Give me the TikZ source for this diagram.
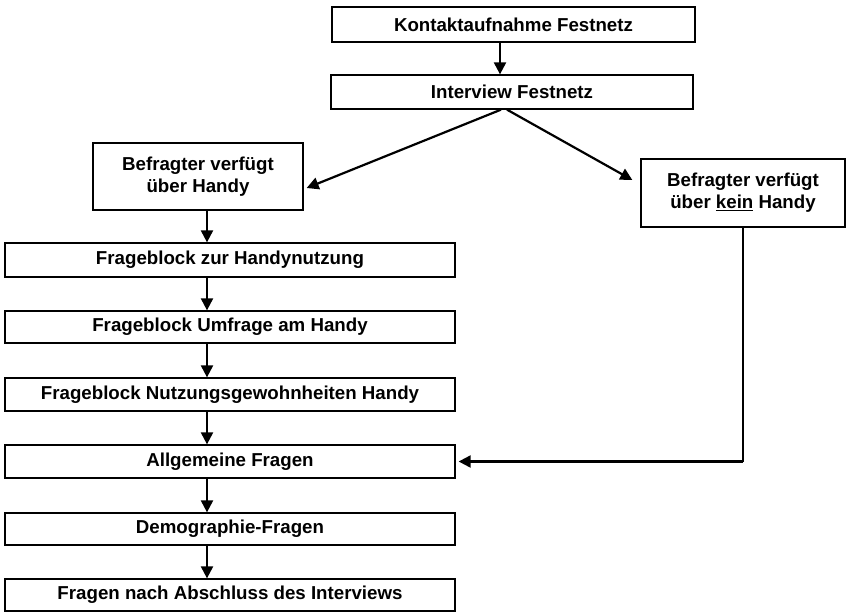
\documentclass[tikz,border=0pt]{standalone}
\usepackage{fontspec}
\setmainfont{Liberation Sans}
\usetikzlibrary{arrows.meta}

\tikzset{
    kasten/.style={draw, line width=1.3pt, inner sep=0pt, align=center,
        font=\bfseries\fontsize{18.7}{22}\selectfont},
    pfeil/.style={line width=2.2pt, -{Triangle[length=12pt,width=12pt]}}
}

\begin{document}
\begin{tikzpicture}[x=1pt,y=-1pt]
        \useasboundingbox (0,0) rectangle (846,611);

        \node[kasten, minimum width=363pt, minimum height=35pt] (kontakt) at (513.5,24.5) {Kontaktaufnahme Festnetz};
        \node[kasten, minimum width=362pt, minimum height=34pt] (interview) at (512,92) {Interview Festnetz};
        \node[kasten, minimum width=210pt, minimum height=67pt] (handy) at (198,176.5) {Befragter verfügt\\über Handy};
        \node[kasten, minimum width=204pt, minimum height=68pt] (kein) at (743,193) {Befragter verfügt\\über \underline{kein} Handy};

        \node[kasten, minimum width=450pt, minimum height=34pt] (nutzung) at (230,260) {Frageblock zur Handynutzung};
        \node[kasten, minimum width=450pt, minimum height=32pt] (umfrage) at (230,327) {Frageblock Umfrage am Handy};
        \node[kasten, minimum width=450pt, minimum height=33pt] (gewohn) at (230,394.5) {Frageblock Nutzungsgewohnheiten Handy};
        \node[kasten, minimum width=450pt, minimum height=33pt] (allg) at (230,461.5) {Allgemeine Fragen};
        \node[kasten, minimum width=450pt, minimum height=32pt] (demo) at (230,529) {Demographie-Fragen};
        \node[kasten, minimum width=450pt, minimum height=32pt] (abschluss) at (230,595) {Fragen nach Abschluss des Interviews};

        \draw[pfeil] ([xshift=-13.5pt]kontakt.south) -- ([xshift=-12pt]interview.north);
        \draw[pfeil] ([xshift=-11pt]interview.south) -- ([xshift=3pt,yshift=-11.5pt]handy.east);
        \draw[pfeil] ([xshift=-5pt]interview.south) -- ([xshift=-8pt,yshift=13pt]kein.west);

        \draw[pfeil] ([xshift=9pt]handy.south) -- ([xshift=-23pt]nutzung.north);
        \draw[pfeil] ([xshift=-23pt]nutzung.south) -- ([xshift=-23pt]umfrage.north);
        \draw[pfeil] ([xshift=-23pt]umfrage.south) -- ([xshift=-23pt]gewohn.north);
        \draw[pfeil] ([xshift=-23pt]gewohn.south) -- ([xshift=-23pt]allg.north);
        \draw[pfeil] ([xshift=-23pt]allg.south) -- ([xshift=-23pt]demo.north);
        \draw[pfeil] ([xshift=-23pt]demo.south) -- ([xshift=-23pt]abschluss.north);

        \coordinate (knick) at (kein.south |- allg.east);
        \draw[line width=1.2pt] (kein.south) -- (knick);
        \draw[pfeil] (knick) -- ([xshift=3pt]allg.east);
\end{tikzpicture}
\end{document}
